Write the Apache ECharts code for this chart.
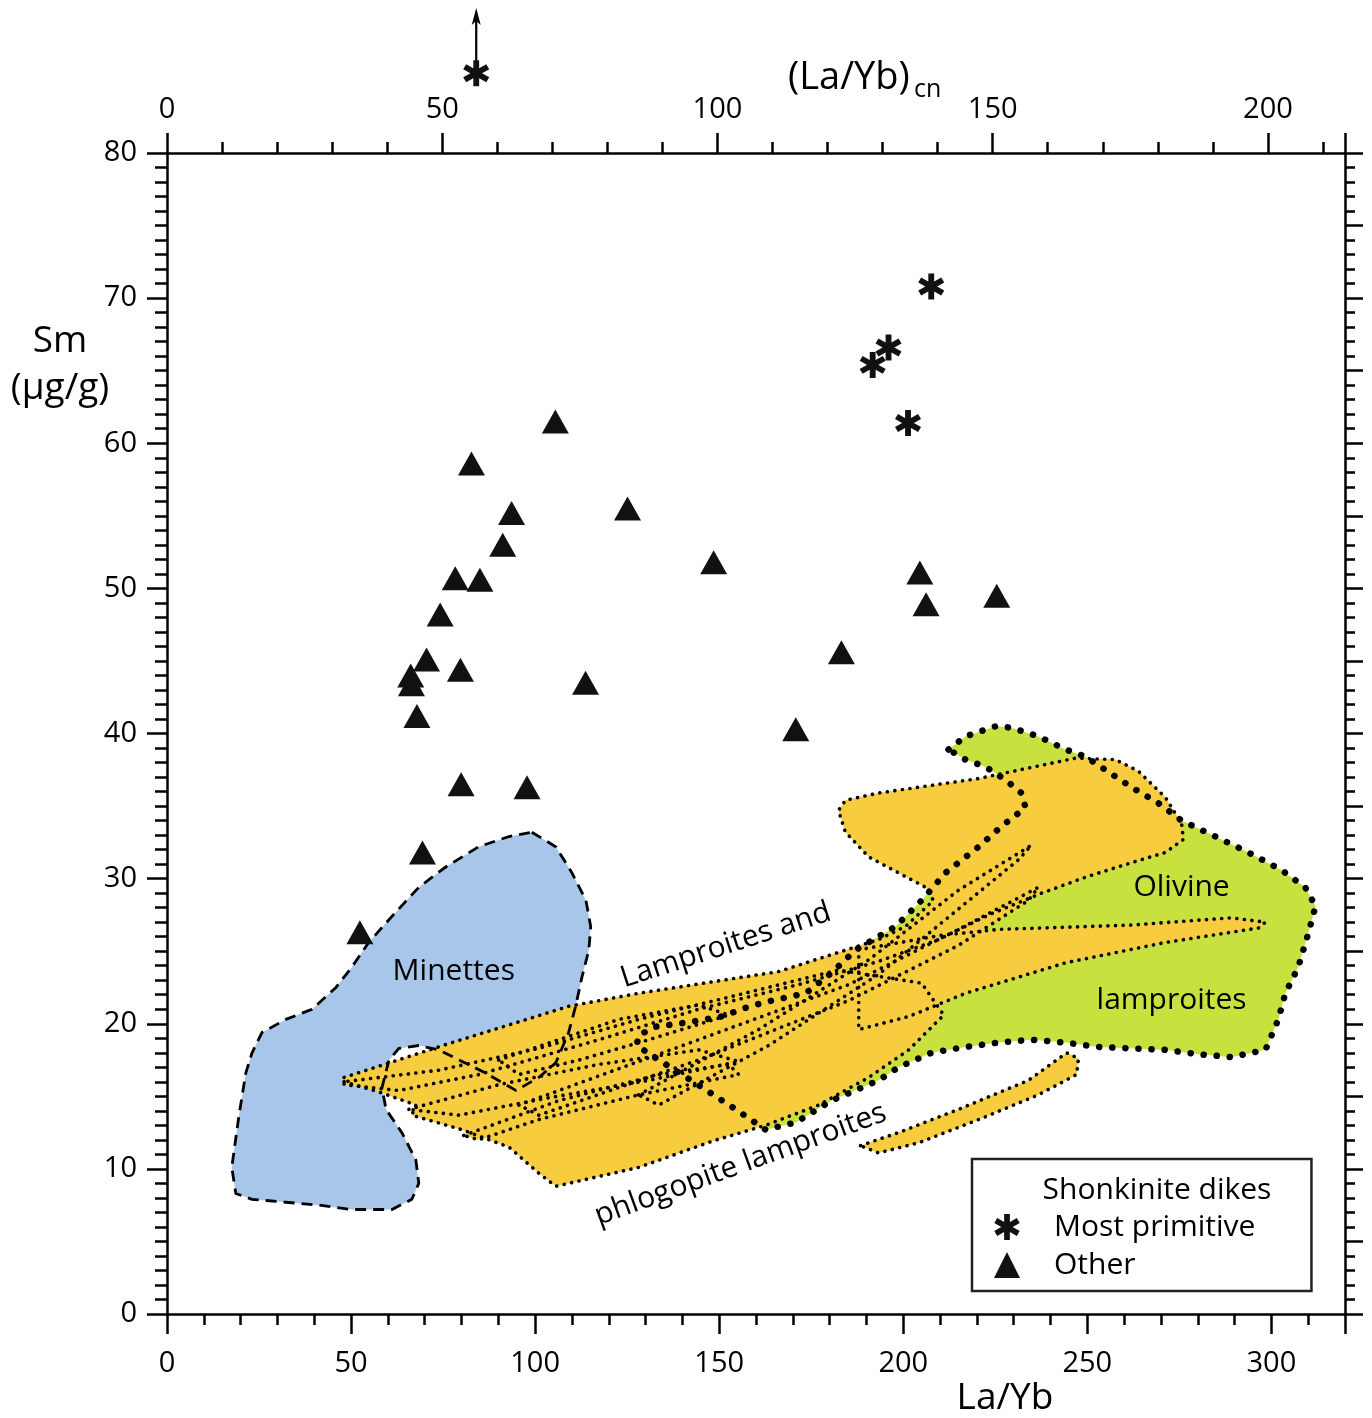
<!DOCTYPE html>
<html>
<head>
<meta charset="utf-8">
<script src="https://cdn.jsdelivr.net/npm/echarts@6/dist/echarts.min.js"></script>
<style>
  html, body { margin: 0; padding: 0; background: #fff; }
  #chart { width: 1372px; height: 1418px; }
</style>
</head>
<body>
<div id="chart"></div>
<script>
// Sm vs La/Yb, shonkinite dikes against minette / lamproite fields
const FONT = '"Open Sans", "Noto Sans", sans-serif';
const INK = '#000';

const primitive = [[207.6, 70.8], [196.0, 66.6], [191.7, 65.4], [201.3, 61.4]];
const offScale = [[84.0, 85.5]];            // above the frame, arrow up
const offScaleArrow = [[84.0, 86.3], [84.0, 90.0]];
const other = [
  [52.4, 26.3], [69.4, 31.8], [79.9, 36.5], [97.8, 36.3], [67.9, 41.2], [66.2, 44.0],
  [66.4, 43.4], [70.5, 45.1], [79.7, 44.4], [74.2, 48.2], [78.3, 50.7], [85.0, 50.6],
  [91.2, 53.0], [93.6, 55.2], [82.7, 58.6], [105.5, 61.5], [125.1, 55.5], [113.7, 43.5],
  [148.5, 51.8], [170.8, 40.3], [183.2, 45.6], [204.5, 51.1], [206.2, 48.9], [225.4, 49.5]
];

// field outlines, in La/Yb, Sm units
const minettes = [
  [99.1, 33.2], [105.6, 32.2], [110.0, 30.4], [113.8, 28.5], [115.1, 26.7], [114.6, 25.1],
  [112.7, 23.2], [111.0, 21.2], [109.1, 19.4], [105.6, 17.3], [101.0, 16.3], [94.8, 15.4],
  [86.6, 16.6], [73.8, 18.2], [68.4, 18.5], [63.0, 18.3], [60.3, 17.5], [58.4, 15.6],
  [59.5, 14.1], [63.8, 12.5], [67.6, 10.6], [68.4, 9.0], [66.5, 7.9], [61.1, 7.2],
  [50.2, 7.2], [41.3, 7.5], [32.3, 7.7], [23.1, 7.9], [18.7, 8.3], [17.6, 10.1],
  [19.5, 13.6], [21.4, 16.6], [23.1, 18.0], [25.8, 19.4], [32.3, 20.3], [39.4, 21.0],
  [45.9, 22.5], [50.2, 23.9], [54.8, 25.6], [61.1, 27.4], [68.4, 29.4], [75.7, 30.8],
  [84.7, 32.2], [92.9, 32.9]
];
const olivineLamproites = [
  [212.3, 38.9], [216.9, 39.8], [225.1, 40.5], [229.4, 40.4], [236.7, 39.8], [244.1, 38.9],
  [249.5, 38.4], [254.9, 37.5], [262.0, 36.3], [269.3, 35.2], [275.6, 34.0], [284.8, 32.9],
  [293.8, 31.8], [302.7, 30.6], [309.2, 29.4], [312.0, 28.1], [310.1, 26.3], [307.3, 23.9],
  [303.8, 22.1], [301.9, 20.3], [298.4, 18.2], [289.1, 17.7], [280.2, 17.9], [271.2, 18.2],
  [262.0, 18.3], [253.0, 18.4], [244.1, 18.7], [234.8, 18.9], [225.9, 18.7], [216.9, 18.4],
  [207.7, 18.0], [198.7, 17.0], [193.3, 16.1], [180.5, 14.7], [170.8, 13.2], [162.6, 12.7],
  [154.5, 14.1], [143.6, 15.9], [133.6, 17.5], [127.6, 18.5], [128.1, 19.2], [132.8, 19.8],
  [141.7, 20.1], [150.7, 20.5], [157.2, 21.1], [162.6, 21.5], [173.5, 22.1], [180.5, 23.5],
  [187.1, 25.1], [197.9, 26.7], [205.0, 28.5], [211.5, 30.4], [220.5, 32.2], [226.7, 33.6],
  [233.2, 34.9], [232.1, 35.9], [227.8, 36.8], [222.4, 37.7], [216.9, 38.2]
];
const lampUpper = [
  [48.1, 16.3], [77.4, 18.7], [109.1, 21.2], [128.1, 22.1], [166.2, 23.6], [193.3, 25.8],
  [200.6, 26.7], [208.2, 28.5], [206.1, 29.4], [198.7, 30.4], [190.6, 31.5], [184.3, 33.2],
  [182.4, 34.7], [184.3, 35.4], [193.3, 35.9], [220.5, 36.9], [246.8, 38.3], [257.7, 38.2],
  [263.9, 37.4], [271.2, 35.6], [275.6, 33.8], [276.1, 32.7], [271.2, 31.8], [262.0, 31.1],
  [249.5, 30.1], [237.6, 29.0], [223.2, 27.5], [209.6, 25.8], [193.3, 24.3], [171.6, 22.7],
  [144.4, 21.0], [117.3, 18.9], [84.7, 16.5], [63.0, 15.4], [48.1, 15.8]
];
const lampLower = [
  [48.1, 16.0], [57.6, 15.3], [67.6, 14.4], [66.5, 13.7], [80.1, 12.7], [92.9, 11.5],
  [101.0, 9.7], [105.6, 8.8], [128.1, 10.1], [148.0, 11.9], [162.6, 13.0], [177.0, 14.4],
  [190.6, 16.3], [201.5, 18.2], [211.0, 20.6], [205.0, 22.8], [182.4, 23.7],
  [155.3, 22.0], [128.1, 20.3], [101.0, 18.3], [73.8, 16.8]
];
const lampStripe = [
  [187.9, 25.1], [210.4, 26.1], [225.9, 26.5], [262.0, 26.8], [289.1, 27.3], [298.4, 27.0],
  [296.5, 26.6], [271.2, 25.6], [244.1, 24.2], [216.9, 22.1], [201.5, 20.5], [187.9, 19.6]
];
const lampSouth = [
  [188.4, 11.6], [198.7, 12.5], [215.0, 14.1], [234.0, 16.1], [244.4, 18.0], [247.6, 17.6],
  [247.1, 16.5], [236.7, 15.1], [220.5, 13.4], [204.2, 11.8], [193.3, 11.1]
];
const lampLoopA = [
  [65.7, 14.1], [90.1, 15.8], [117.3, 17.2], [144.4, 18.2], [155.3, 17.4], [130.9, 16.1],
  [103.7, 14.9], [79.3, 13.7]
];
const lampLoopB = [
  [80.6, 12.3], [106.4, 14.7], [133.6, 16.5], [152.6, 17.2], [155.3, 16.5], [128.1, 15.1],
  [101.0, 13.4], [84.7, 12.0]
];
const lampLoopC = [
  [90.1, 17.5], [106.4, 18.9], [122.7, 20.3], [144.4, 21.3], [152.6, 20.6], [130.9, 18.9],
  [111.9, 17.5], [95.6, 16.5]
];
const lampLoopD = [
  [95.6, 14.4], [144.4, 18.9], [185.2, 22.7], [215.0, 26.5], [236.7, 29.4], [234.0, 28.5],
  [215.0, 25.4], [185.2, 21.6], [144.4, 17.5], [101.0, 13.7]
];
const lampLoopE = [
  [128.1, 15.1], [160.7, 19.6], [190.6, 24.4], [215.0, 29.2], [234.8, 32.3], [231.3, 31.3],
  [216.4, 28.2], [193.3, 23.4], [163.4, 18.5], [133.6, 14.4]
];
const lamproiteFields = [lampUpper, lampLower, lampStripe, lampSouth, lampLoopA, lampLoopB, lampLoopC, lampLoopD, lampLoopE];

const noteText = ['Minettes', 'Lamproites and', 'phlogopite lamproites', 'Olivine', 'lamproites'];
const noteX = [77.9, 151.8, 155.8, 275.6, 272.9];
const noteY = [23.6, 25.4, 10.3, 29.4, 21.6];
const noteAngle = [0, 18, 20, 0, 0];

const starPath = 'path://M-2.2,-10L2.2,-10L2.2,10L-2.2,10Z' +
  'M7.56,6.91L-9.76,-3.09L-7.56,-6.91L9.76,3.09Z' +
  'M9.76,-3.09L-7.56,6.91L-9.76,3.09L7.56,-6.91Z';

function regionSeries(regions, style, z) {
  return {
    type: 'custom',
    coordinateSystem: 'cartesian2d',
    xAxisIndex: 0,
    yAxisIndex: 0,
    silent: true,
    z: z,
    data: regions.map((r, i) => [i, 0]),
    renderItem: (params, api) => ({
      type: 'polygon',
      shape: { points: regions[params.dataIndex].map(p => api.coord(p)) },
      style: style
    })
  };
}

const axisLine = { show: true, onZero: false, lineStyle: { color: INK, width: 2.5 } };
const noLine = { show: false, onZero: false };
const label = { fontSize: 29, color: INK, fontFamily: FONT };
const every50 = v => (v % 50 === 0 ? String(v) : '');

const chart = echarts.init(document.getElementById('chart'), null, { renderer: 'canvas' });
chart.setOption({
  backgroundColor: '#fff',
  animation: false,
  grid: [
    { left: 167, top: 153, width: 1178, height: 1161 },
    { left: 167, top: 153, width: 1178, height: 1161 }
  ],
  xAxis: [
    {
      gridIndex: 0, type: 'value', position: 'bottom', min: 0, max: 320, interval: 50,
      axisLine, splitLine: { show: false },
      axisTick: { length: 20, lineStyle: { color: INK, width: 2.5 } },
      axisLabel: { ...label, margin: 35, formatter: every50 }
    },
    {
      gridIndex: 0, type: 'value', position: 'top', min: 0, max: 214, interval: 50,
      axisLine, splitLine: { show: false },
      axisTick: { length: 20, lineStyle: { color: INK, width: 2.5 } },
      axisLabel: { ...label, margin: 29, formatter: every50 }
    },
    {
      gridIndex: 1, type: 'value', position: 'bottom', min: 0, max: 320, interval: 10,
      axisLine: noLine, splitLine: { show: false }, axisLabel: { show: false },
      axisTick: { length: 11, lineStyle: { color: INK, width: 2.5 } }
    },
    {
      gridIndex: 1, type: 'value', position: 'top', min: 0, max: 214, interval: 10,
      axisLine: noLine, splitLine: { show: false }, axisLabel: { show: false },
      axisTick: { length: 11, lineStyle: { color: INK, width: 2.5 } }
    }
  ],
  yAxis: [
    {
      gridIndex: 0, type: 'value', position: 'left', min: 0, max: 80, interval: 10,
      axisLine, splitLine: { show: false },
      axisTick: { length: 20, lineStyle: { color: INK, width: 2.5 } },
      minorTick: { show: true, splitNumber: 10, length: 12, lineStyle: { color: INK, width: 2.5 } },
      axisLabel: { ...label, margin: 30 }
    },
    {
      gridIndex: 0, type: 'value', position: 'right', min: 0, max: 80, interval: 5,
      axisLine, splitLine: { show: false }, axisLabel: { show: false },
      axisTick: { length: 18, lineStyle: { color: INK, width: 2.5 } },
      minorTick: { show: true, splitNumber: 5, length: 10, lineStyle: { color: INK, width: 2.5 } }
    },
    { gridIndex: 1, type: 'value', min: 0, max: 80, show: false, axisLine: noLine }
  ],
  legend: {
    data: ['Most primitive', 'Other'],
    orient: 'vertical',
    left: 972,
    top: 1159,
    padding: [53, 56, 11, 22],
    itemGap: 8,
    itemWidth: 26,
    itemHeight: 26,
    selectedMode: false,
    borderColor: '#222',
    borderWidth: 2.5,
    textStyle: { fontSize: 30, color: INK, fontFamily: FONT, padding: [0, 0, 0, 29] }
  },
  graphic: [
    { type: 'text', x: 1157, y: 1190, style: { text: 'Shonkinite dikes', fontSize: 30, fontFamily: FONT, fill: INK, align: 'center', verticalAlign: 'middle' } },
    { type: 'text', x: 788, y: 78, style: { text: '(La/Yb)', fontSize: 38, fontFamily: FONT, fill: INK, align: 'left', verticalAlign: 'middle' } },
    { type: 'text', x: 914, y: 90, style: { text: 'cn', fontSize: 25, fontFamily: FONT, fill: INK, align: 'left', verticalAlign: 'middle' } },
    { type: 'text', x: 1005, y: 1398, style: { text: 'La/Yb', fontSize: 37, fontFamily: FONT, fill: INK, align: 'center', verticalAlign: 'middle' } },
    { type: 'text', x: 60, y: 341, style: { text: 'Sm', fontSize: 37, fontFamily: FONT, fill: INK, align: 'center', verticalAlign: 'middle' } },
    { type: 'text', x: 60, y: 388, style: { text: '(\u03bcg/g)', fontSize: 37, fontFamily: FONT, fill: INK, align: 'center', verticalAlign: 'middle' } }
  ],
  series: [
    regionSeries([minettes], { fill: '#a7c6e9' }, 1),
    regionSeries([olivineLamproites], { fill: '#c9e13f' }, 1),
    regionSeries(lamproiteFields, { fill: '#f7cc3f' }, 1),
    regionSeries(lamproiteFields, { fill: 'none', stroke: INK, lineWidth: 3.6, lineDash: [0.1, 7.5], lineCap: 'round' }, 2),
    regionSeries([olivineLamproites], { fill: 'none', stroke: INK, lineWidth: 6.5, lineDash: [0.1, 13], lineCap: 'round' }, 2),
    regionSeries([minettes], { fill: 'none', stroke: INK, lineWidth: 2.8, lineDash: [11, 7] }, 2),
    {
      type: 'scatter',
      silent: true,
      z: 3,
      symbolSize: 1,
      itemStyle: { color: 'transparent', opacity: 1 },
      label: { show: true, position: 'inside', formatter: '{b}', fontSize: 30, color: INK, opacity: 1, fontFamily: FONT },
      data: noteText.map((t, i) => ({ name: t, value: [noteX[i], noteY[i]], label: { rotate: noteAngle[i] } }))
    },
    {
      name: 'Other',
      type: 'scatter',
      z: 5,
      symbol: 'triangle',
      symbolSize: [27, 24],
      itemStyle: { color: '#111', opacity: 1 },
      data: other
    },
    {
      name: 'Most primitive',
      type: 'scatter',
      z: 5,
      clip: false,
      symbol: starPath,
      symbolSize: 26,
      itemStyle: { color: '#111', opacity: 1 },
      data: primitive.concat(offScale)
    },
    {
      // arrow for the off-scale sample
      type: 'custom',
      coordinateSystem: 'cartesian2d',
      clip: false,
      silent: true,
      z: 5,
      data: [[0, 0]],
      renderItem: (params, api) => {
        const a = api.coord(offScaleArrow[0]);
        const b = api.coord(offScaleArrow[1]);
        return {
          type: 'group',
          children: [
            { type: 'line', shape: { x1: a[0], y1: a[1], x2: b[0], y2: b[1] + 12 }, style: { stroke: INK, lineWidth: 2.2 } },
            { type: 'polygon', shape: { points: [[b[0], b[1]], [b[0] - 4.5, b[1] + 17], [b[0], b[1] + 13], [b[0] + 4.5, b[1] + 17]] }, style: { fill: INK } }
          ]
        };
      }
    }
  ]
});
</script>
</body>
</html>
